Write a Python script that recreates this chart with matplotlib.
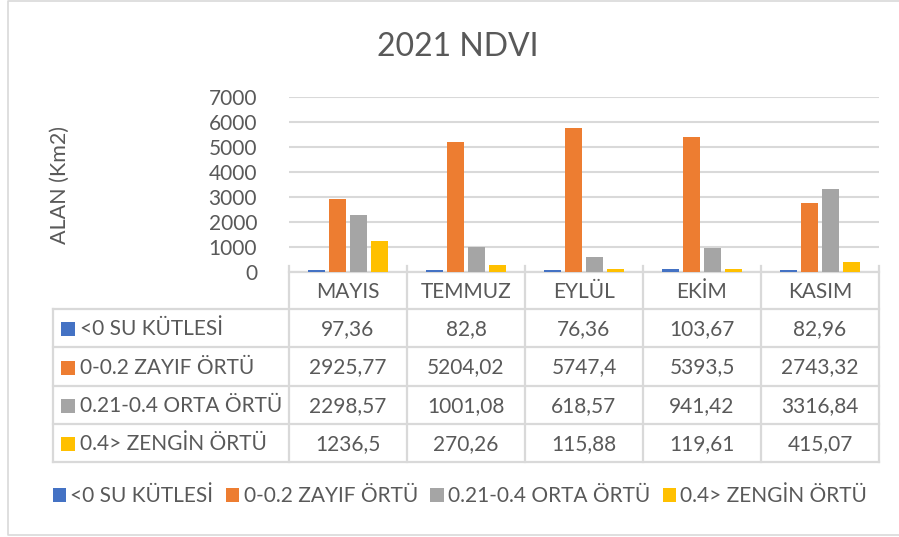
import matplotlib
matplotlib.use("Agg")
import matplotlib.pyplot as plt
from matplotlib.patches import Rectangle
import numpy as np

months = ["MAYIS", "TEMMUZ", "EYLÜL", "EKİM", "KASIM"]
series_names = ["<0 SU KÜTLESİ", "0-0.2 ZAYIF ÖRTÜ", "0.21-0.4 ORTA ÖRTÜ", "0.4> ZENGİN ÖRTÜ"]
su = [97.36, 82.8, 76.36, 103.67, 82.96]
zayif = [2925.77, 5204.02, 5747.4, 5393.5, 2743.32]
orta = [2298.57, 1001.08, 618.57, 941.42, 3316.84]
zengin = [1236.5, 270.26, 115.88, 119.61, 415.07]
yticks = [0, 1000, 2000, 3000, 4000, 5000, 6000, 7000]

colors = ["#4472C4", "#ED7D31", "#A5A5A5", "#FFC000"]
TXT = "#595959"
GRID = "#D9D9D9"
FONT = ["Lato", "DejaVu Sans"]
plt.rcParams["font.family"] = FONT

W, H = 899, 537
fig = plt.figure(figsize=(W / 100, H / 100), dpi=100)

def fx(x):
    return x / W

def fy(y):
    return 1 - y / H

# overlay axes in pixel coordinates
ov = fig.add_axes([0, 0, 1, 1], zorder=0)
ov.set_xlim(0, W)
ov.set_ylim(H, 0)
ov.axis("off")
ov.plot([W, 7.5, 7.5, W], [0.5, 0.5, 535, 535], color=GRID, lw=1.2)

# main axes
x0, x1, ytop, ybot = 289, 879, 97, 272
ax = fig.add_axes([fx(x0), fy(ybot), fx(x1 - x0), (ybot - ytop) / H], zorder=2)
ax.patch.set_alpha(0)
data = [su, zayif, orta, zengin]
x = np.arange(len(months))
pitch = 0.178
bw = 0.144
for i, (vals, c) in enumerate(zip(data, colors)):
    ax.bar(x + (i - 1.5) * pitch, vals, width=bw, color=c, zorder=3, label=series_names[i])
ax.set_xlim(-0.5, len(months) - 0.5)
ax.set_ylim(0, 7000)
ax.set_yticks(yticks)
ax.set_yticklabels([str(t) for t in yticks])
ax.set_xticks([])
ax.grid(axis="y", color=GRID, lw=1.5, zorder=0)
for s in ax.spines.values():
    s.set_visible(False)
ax.tick_params(axis="y", length=0, pad=23, labelsize=15, labelcolor=TXT)
ax.set_ylabel("ALAN (Km2)", fontsize=15.5, color=TXT, labelpad=100)

# title
fig.text(fx(458), fy(47), "2021 NDVI", ha="center", va="center", fontsize=23,
         color=TXT)

# data table
col_edges = [289, 407, 525, 643, 761, 879]
row_edges = [272, 309, 347, 386, 424, 462]
tleft = 52.5
lc = GRID
lw = 1.6
ov.plot([col_edges[0], col_edges[-1]], [row_edges[0], row_edges[0]], color=lc, lw=lw, zorder=1)
for yy in row_edges[1:]:
    ov.plot([tleft, col_edges[-1]], [yy, yy], color=lc, lw=lw, zorder=1)
ov.plot([tleft, tleft], [row_edges[1], row_edges[-1]], color=lc, lw=lw, zorder=1)
for xx in col_edges:
    ov.plot([xx, xx], [row_edges[0] - 6, row_edges[-1]], color=lc, lw=lw, zorder=1)

centers = [(col_edges[j] + col_edges[j + 1]) / 2 for j in range(len(months))]
for j, m in enumerate(months):
    ov.text(centers[j], (row_edges[0] + row_edges[1]) / 2 + 1, m, ha="center", va="center",
            fontsize=15, color=TXT)

def fmt(v):
    return str(v).replace(".", ",")

for i, vals in enumerate(data):
    yc = (row_edges[i + 1] + row_edges[i + 2]) / 2 + 1
    ov.add_patch(Rectangle((61, yc - 7), 14, 14, color=colors[i], lw=0))
    ov.text(80, yc, series_names[i], ha="left", va="center", fontsize=15, color=TXT)
    for j, v in enumerate(vals):
        ov.text(centers[j], yc, fmt(v), ha="center", va="center", fontsize=15, color=TXT)

# legend
handles, labels = ax.get_legend_handles_labels()
leg = fig.legend(handles, labels, loc="center", bbox_to_anchor=(fx(460), fy(496)), ncol=4,
                 frameon=False, fontsize=15, handlelength=0.65, handleheight=0.65,
                 handletextpad=0.2, columnspacing=0.6, labelcolor=TXT)

fig.savefig("out.png", dpi=100)
